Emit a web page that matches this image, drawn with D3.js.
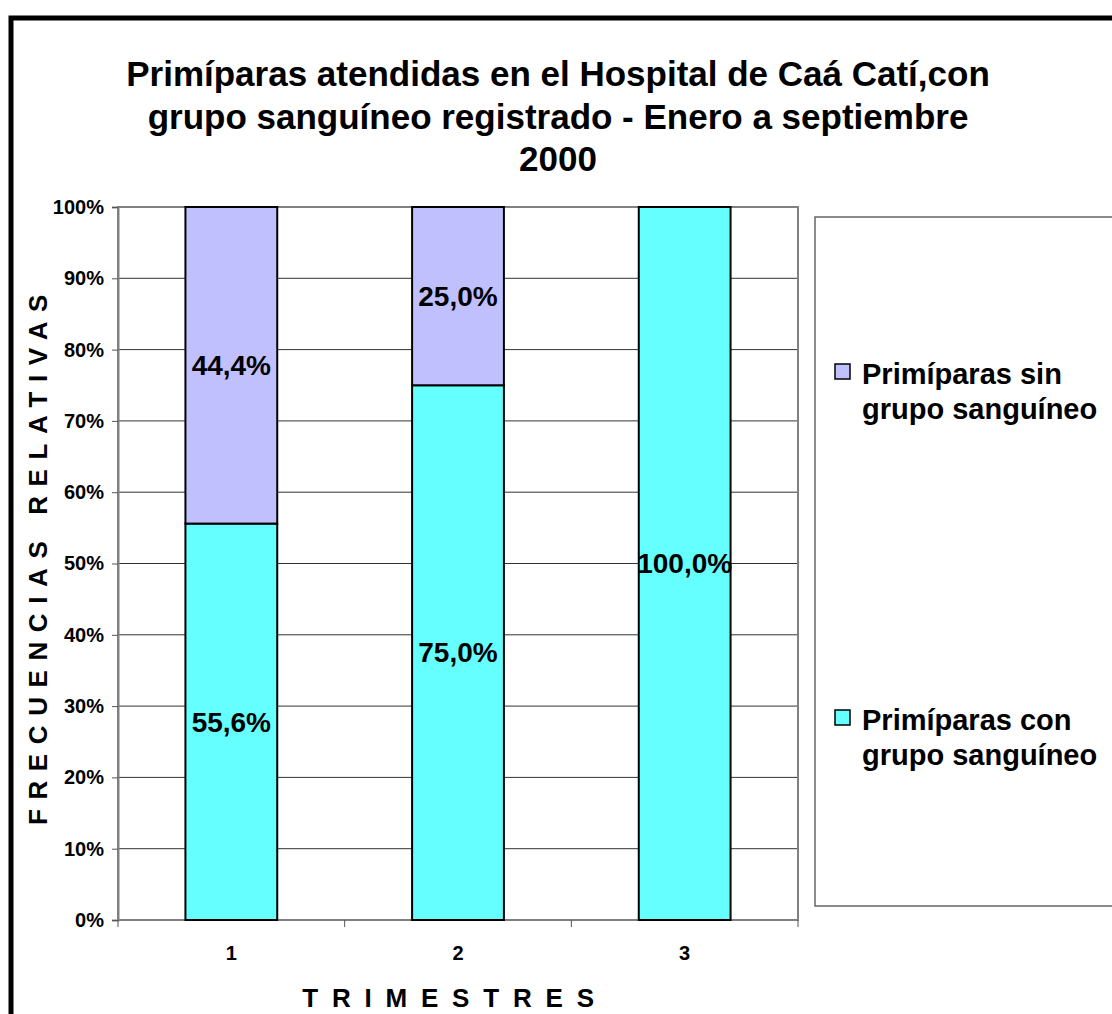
<!DOCTYPE html>
<html>
<head>
<meta charset="utf-8">
<script src="https://cdn.jsdelivr.net/npm/d3@7"></script>
<style>
body { margin: 0; background: #fff; }
text { font-family: Arial, "Liberation Sans", sans-serif; font-weight: bold; }
</style>
</head>
<body>
<script>
var trimestres = ["1", "2", "3"];
var conGrupo = [55.6, 75.0, 100.0];
var sinGrupo = [44.4, 25.0, 0];
var yTicks = [0, 10, 20, 30, 40, 50, 60, 70, 80, 90, 100];
var series = ["Primíparas con grupo sanguíneo", "Primíparas sin grupo sanguíneo"];

var svg = d3.select("body").append("svg")
  .attr("width", 1112)
  .attr("height", 1014);

// marco exterior
svg.append("rect")
  .attr("x", 11).attr("y", 18)
  .attr("width", 1130).attr("height", 1030)
  .attr("fill", "none")
  .attr("stroke", "#000")
  .attr("stroke-width", 5);

var titulo = ["Primíparas atendidas en el Hospital de Caá Catí,con",
  "grupo sanguíneo registrado - Enero a septiembre",
  "2000"];
svg.selectAll(".titulo")
  .data(titulo)
  .enter().append("text")
  .attr("class", "titulo")
  .attr("x", 558)
  .attr("y", function(d, i) { return 86 + i * 42.5; })
  .attr("text-anchor", "middle")
  .style("font-size", "35px")
  .text(function(d) { return d; });

var margin = {top: 207, left: 118},
  width = 680,
  height = 713;

var data = trimestres.map(function(t, i) {
  return {trim: t, con: conGrupo[i], sin: sinGrupo[i]};
});

var x = d3.scaleBand()
  .domain(trimestres)
  .range([0, width]);

var y = d3.scaleLinear()
  .domain([0, 100])
  .range([height, 0]);

var z = d3.scaleOrdinal()
  .domain(["con", "sin"])
  .range(["#66FFFF", "#C0C0FF"]);

var g = svg.append("g").attr("transform", "translate(" + margin.left + "," + margin.top + ")");

// grid
g.selectAll(".grid")
  .data(yTicks)
  .enter().append("line")
  .attr("x1", 0).attr("x2", width)
  .attr("y1", function(d) { return y(d); })
  .attr("y2", function(d) { return y(d); })
  .attr("stroke", "#333")
  .attr("stroke-width", 1);

g.append("rect")
  .attr("width", width).attr("height", height)
  .attr("fill", "none")
  .attr("stroke", "#808080")
  .attr("stroke-width", 2);

var stack = d3.stack().keys(["con", "sin"]);
var barW = x.bandwidth() * 0.405;

var capas = g.selectAll(".serie")
  .data(stack(data))
  .enter().append("g")
  .attr("class", "serie")
  .attr("fill", function(d) { return z(d.key); });

capas.selectAll("rect")
  .data(function(d) { return d.filter(function(p) { return p[1] > p[0]; }); })
  .enter().append("rect")
  .attr("x", function(d) { return x(d.data.trim) + (x.bandwidth() - barW) / 2; })
  .attr("y", function(d) { return y(d[1]); })
  .attr("width", barW)
  .attr("height", function(d) { return y(d[0]) - y(d[1]); })
  .attr("stroke", "#000")
  .attr("stroke-width", 2);

capas.selectAll(".lbl")
  .data(function(d) { return d.filter(function(p) { return p[1] > p[0]; }); })
  .enter().append("text")
  .attr("class", "lbl")
  .attr("x", function(d) { return x(d.data.trim) + x.bandwidth() / 2; })
  .attr("y", function(d) { return y((d[0] + d[1]) / 2); })
  .attr("dy", "0.35em")
  .attr("text-anchor", "middle")
  .attr("fill", "#000")
  .style("font-size", "28px")
  .text(function(d) { return d3.format(".1f")(d[1] - d[0]).replace(".", ",") + "%"; });

// eje y
var ejeY = g.append("g")
  .call(d3.axisLeft(y).tickValues(yTicks).tickSize(6).tickFormat(function(d) { return d + "%"; }));
ejeY.select(".domain").attr("stroke", "#808080").attr("stroke-width", 2);
ejeY.selectAll(".tick line").attr("stroke", "#555");
ejeY.selectAll("text").attr("x", -14).style("font-size", "20px").attr("fill", "#000");

// eje x
var ejeX = g.append("g")
  .attr("transform", "translate(0," + height + ")")
  .call(d3.axisBottom(x).tickSize(0));
ejeX.select(".domain").remove();
ejeX.selectAll("text").attr("y", 26).style("font-size", "20px").attr("fill", "#000");
g.selectAll(".xt")
  .data(d3.range(trimestres.length + 1))
  .enter().append("line")
  .attr("x1", function(d) { return d * x.step(); })
  .attr("x2", function(d) { return d * x.step(); })
  .attr("y1", height).attr("y2", height + 7)
  .attr("stroke", "#555");

svg.append("text")
  .attr("x", 455).attr("y", 1007)
  .attr("text-anchor", "middle")
  .style("font-size", "26px")
  .style("letter-spacing", "13.8px")
  .text("TRIMESTRES");

svg.append("text")
  .attr("transform", "translate(47,555) rotate(-90)")
  .attr("text-anchor", "middle")
  .style("font-size", "26px")
  .style("letter-spacing", "9.6px")
  .text("FRECUENCIAS RELATIVAS");

// leyenda
svg.append("rect")
  .attr("x", 815).attr("y", 217)
  .attr("width", 320).attr("height", 689)
  .attr("fill", "#fff")
  .attr("stroke", "#666")
  .attr("stroke-width", 1.5);

var leyenda = svg.selectAll(".legend")
  .data([{key: "sin", y: 364, lines: ["Primíparas sin", "grupo sanguíneo"]},
         {key: "con", y: 710, lines: ["Primíparas con", "grupo sanguíneo"]}])
  .enter().append("g")
  .attr("class", "legend")
  .attr("transform", function(d) { return "translate(835," + d.y + ")"; });

leyenda.append("rect")
  .attr("width", 15).attr("height", 15)
  .attr("fill", function(d) { return z(d.key); })
  .attr("stroke", "#000")
  .attr("stroke-width", 1.5);

leyenda.selectAll(".lt")
  .data(function(d) { return d.lines; })
  .enter().append("text")
  .attr("class", "lt")
  .attr("x", 27)
  .attr("y", function(d, i) { return 20 + i * 35; })
  .style("font-size", "29px")
  .text(function(d) { return d; });
</script>
</body>
</html>
